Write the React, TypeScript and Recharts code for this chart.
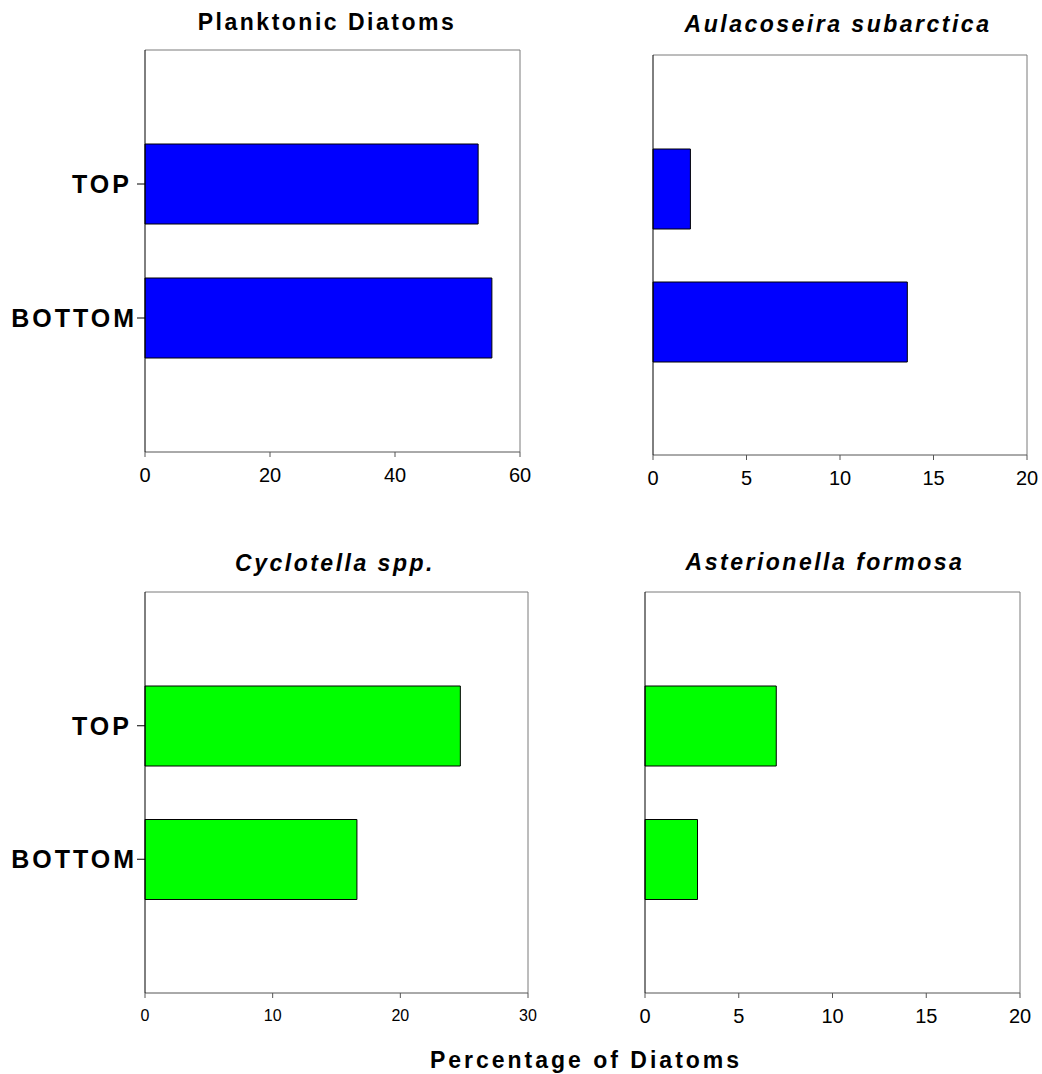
import React from "react";
import { BarChart, Bar, XAxis, YAxis, CartesianGrid } from "recharts";

const depths = ["TOP", "BOTTOM"];
const planktonicValues = [53.3, 55.5];
const aulacoseiraValues = [2.0, 13.6];
const cyclotellaValues = [24.7, 16.6];
const asterionellaValues = [7.0, 2.8];

const ticks60 = [0, 20, 40, 60];
const ticks30 = [0, 10, 20, 30];
const ticks20 = [0, 5, 10, 15, 20];

const FONT = "'Liberation Sans', Arial, sans-serif";

const DepthTick = (props: any) => {
  const { x, y, payload } = props;
  return (
    <text
      x={x}
      y={y}
      dx={payload.value === "TOP" ? -5 : 0}
      dy="0.36em"
      textAnchor="end"
      fill="#000"
      fontSize={25}
      fontWeight="bold"
      fontFamily={FONT}
      letterSpacing={3}
    >
      {payload.value}
    </text>
  );
};

// gray frame on the top and right of the plot area
const topEdge = ({ offset }: any) => [offset.top];
const rightEdge = ({ offset }: any) => [offset.left + offset.width];

function Panel(props: {
  values: number[];
  color: string;
  ticks: number[];
  width: number;
  height: number;
  top: number;
  right: number;
  yWidth: number;
  labels: boolean;
  tickFont: number;
  tickGap: number;
}) {
  const data = depths.map((name, i) => ({ name, value: props.values[i] }));
  const max = props.ticks[props.ticks.length - 1];
  const plotH = props.height - props.top - 48;
  const pad = Math.round(plotH / 6);
  return (
    <BarChart
      layout="vertical"
      width={props.width}
      height={props.height}
      data={data}
      margin={{ top: props.top, right: props.right, bottom: 0, left: 0 }}
    >
      <CartesianGrid
        stroke="#7a7a7a"
        horizontalCoordinatesGenerator={topEdge}
        verticalCoordinatesGenerator={rightEdge}
      />
      <XAxis
        type="number"
        domain={[0, max]}
        ticks={props.ticks}
        height={48}
        tickSize={5}
        tickMargin={props.tickGap}
        axisLine={{ stroke: "#555" }}
        tickLine={{ stroke: "#555" }}
        tick={{ fill: "#000", fontSize: props.tickFont, fontFamily: FONT }}
      />
      <YAxis
        type="category"
        dataKey="name"
        width={props.yWidth}
        padding={{ top: pad, bottom: pad }}
        axisLine={{ stroke: "#000" }}
        tickLine={{ stroke: "#000" }}
        tickSize={props.labels ? 8 : 4}
        tickMargin={0}
        tick={props.labels ? <DepthTick /> : false}
      />
      <Bar
        dataKey="value"
        fill={props.color}
        stroke="#000"
        strokeWidth={1}
        barSize={80}
        isAnimationActive={false}
      />
    </BarChart>
  );
}

const titleStyle = (left: number, top: number, italic: boolean): React.CSSProperties => ({
  position: "absolute",
  left: left - 200,
  top,
  width: 400,
  textAlign: "center",
  fontFamily: FONT,
  fontWeight: "bold",
  fontStyle: italic ? "italic" : "normal",
  fontSize: 23,
  lineHeight: "23px",
  letterSpacing: 2.5,
  color: "#000",
  whiteSpace: "nowrap",
});

export default function App() {
  return (
    <div
      style={{
        position: "absolute",
        left: 0,
        top: 0,
        width: 1042,
        height: 1074,
        background: "#fff",
        overflow: "hidden",
      }}
    >
      <div style={titleStyle(327, 11, false)}>Planktonic Diatoms</div>
      <div style={titleStyle(838, 13, true)}>Aulacoseira subarctica</div>
      <div style={titleStyle(335, 552, true)}>Cyclotella spp.</div>
      <div style={titleStyle(825, 551, true)}>Asterionella formosa</div>

      <div style={{ position: "absolute", left: 0, top: 0 }}>
        <Panel values={planktonicValues} color="#0000FF" ticks={ticks60}
          width={560} height={500} top={50} right={40} yWidth={145}
          labels tickFont={20} tickGap={11} />
      </div>
      <div style={{ position: "absolute", left: 560, top: 0 }}>
        <Panel values={aulacoseiraValues} color="#0000FF" ticks={ticks20}
          width={482} height={503} top={55} right={15} yWidth={93}
          labels={false} tickFont={20} tickGap={11} />
      </div>
      <div style={{ position: "absolute", left: 0, top: 540 }}>
        <Panel values={cyclotellaValues} color="#00FF00" ticks={ticks30}
          width={560} height={501} top={52} right={32} yWidth={145}
          labels tickFont={16} tickGap={12} />
      </div>
      <div style={{ position: "absolute", left: 560, top: 540 }}>
        <Panel values={asterionellaValues} color="#00FF00" ticks={ticks20}
          width={482} height={501} top={52} right={22} yWidth={85}
          labels={false} tickFont={20} tickGap={11} />
      </div>

      <div style={{ ...titleStyle(586, 1049, false), letterSpacing: 3 }}>
        Percentage of Diatoms
      </div>
    </div>
  );
}
